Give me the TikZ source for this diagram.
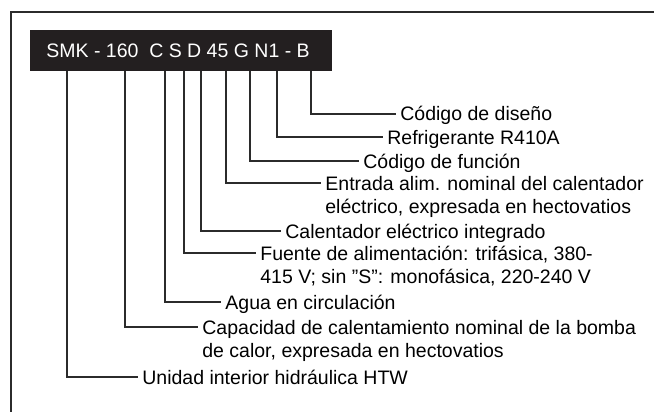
\documentclass[tikz,border=0pt]{standalone}
\usepackage{fontspec}
\setmainfont{Liberation Sans}
\usetikzlibrary{positioning}

\definecolor{framegray}{HTML}{2B2B2B}
\definecolor{bargray}{HTML}{231F20}

\begin{document}
\begin{tikzpicture}[x=1pt, y=-1pt, thick]

		\tikzstyle{lbl}=[inner xsep=4pt, inner ysep=0pt, anchor=base west, align=left, text=black, font=\fontsize{19.5}{23.5}\selectfont]
		\tikzstyle{code}=[inner sep=0pt, anchor=base west, text=white, font=\fontsize{19.5}{23.5}\selectfont]
		\tikzstyle{lead}=[line width=1.1pt, draw=framegray]

		\useasboundingbox (0,0) rectangle (654,412);

		% frame and code bar
		\draw[line width=2pt, framegray] (11,412) -- (11,12) -- (654,12);
		\fill[bargray] (30,30) rectangle (332,71);
		\node[code] (model) at (46,58) {SMK - 160\ \ C S D 45 G N1 - B};

		% feet of the leads under the code
		\coordinate (cSMK) at (67,71);
		\coordinate (cCap) at (125,71);
		\coordinate (cC)   at (165,71);
		\coordinate (cS)   at (184,71);
		\coordinate (cD)   at (201,71);
		\coordinate (cKW)  at (226,71);
		\coordinate (cG)   at (250,71);
		\coordinate (cN)   at (277,71);
		\coordinate (cB)   at (311,71);

		% two-line labels sit on the baseline of their last line
		\node[lbl] (dis) at (396,121) {Código de diseño};
		\node[lbl] (ref) at (383,144) {Refrigerante R410A};
		\node[lbl] (fun) at (359,168) {Código de función};
		\node[lbl] (ent) at (321,213.5) {Entrada alim. nominal del calentador\\eléctrico, expresada en hectovatios};
		\node[lbl] (cal) at (281,238) {Calentador eléctrico integrado};
		\node[lbl] (fue) at (256,283.5) {Fuente de alimentación: trifásica, 380-\\415 V; sin "S": monofásica, 220-240 V};
		\node[lbl] (agu) at (221,309) {Agua en circulación};
		\node[lbl] (cap) at (198,357.5) {Capacidad de calentamiento nominal de la bomba\\de calor, expresada en hectovatios};
		\node[lbl] (uni) at (138,384) {Unidad interior hidráulica HTW};

		% leads
		\draw[lead] (cB)   |- ([yshift=7pt]dis.base west);
		\draw[lead] (cN)   |- ([yshift=7pt]ref.base west);
		\draw[lead] (cG)   |- ([yshift=7pt]fun.base west);
		\draw[lead] (cKW)  |- ([yshift=30.5pt]ent.base west);
		\draw[lead] (cD)   |- ([yshift=7pt]cal.base west);
		\draw[lead] (cS)   |- ([yshift=30.5pt]fue.base west);
		\draw[lead] (cC)   |- ([yshift=7pt]agu.base west);
		\draw[lead] (cCap) |- ([yshift=30.5pt]cap.base west);
		\draw[lead] (cSMK) |- ([yshift=7pt]uni.base west);
\end{tikzpicture}
\end{document}
